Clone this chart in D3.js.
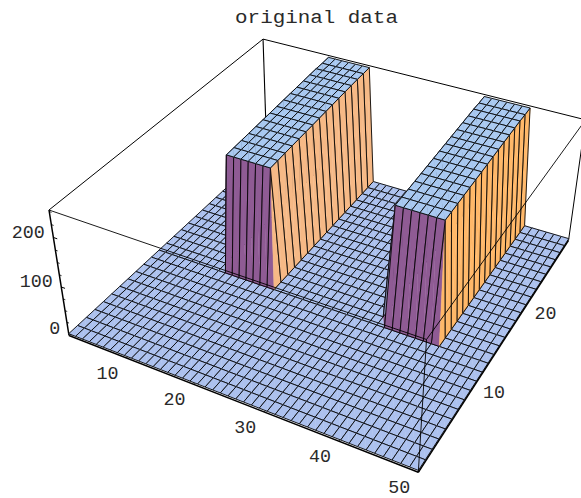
<!DOCTYPE html>
<html><head><meta charset="utf-8">
<script src="https://cdn.jsdelivr.net/npm/d3@7"></script>
<style>html,body{margin:0;padding:0;background:#fff;overflow:hidden}svg{display:block}text{font-family:"Liberation Mono",monospace;fill:#2a2a2a}</style>
</head><body>
<script>
// ---- data ----
const title = "original data";
const xTicks = [10,20,30,40,50];
const yTicks = [10,20];
const zTicks = [0,100,200];
const zMinorTicks = [25,50,75,125,150,175,225,250];
// which of the 46 mesh columns carry a wall, and the height of each of the 28 mesh rows there
const columnMask = [0,0,0,0,0,0,0,0,0,0,1,1,1,1,1,1,1,0,0,0,0,0,0,0,0,0,0,0,0,0,0,0,1,1,1,1,1,1,1,0,0,0,0,0,0,0];
const rowHeight = [0,0,0,0,0,0,0,0,0,0,0,0,235,236,237,238,239,240,241,242,243,244,245,246,247,248,248,249];
const xDomain = [1,50], yDomain = [1,30], zDomain = [-4,253];
// ---- drawing ----
const W=581,H=498;
const svg=d3.select("body").append("svg").attr("width",W).attr("height",H);
const uS=d3.scaleLinear().domain(xDomain).range([0,1]);
const vS=d3.scaleLinear().domain(yDomain).range([0,1]);
const wS=d3.scaleLinear().domain(zDomain).range([0,1]);
const iS=d3.scaleLinear().domain([0,columnMask.length-1]).range([0,1]);
const jS=d3.scaleLinear().domain([0,rowHeight.length-1]).range([0,1]);
// camera: homogeneous projection of the unit box
const CAM=[[296.93,256.5,-23.53,69],[77.67,-150,-140.62,335.5],[-.1252,.22,-.072,1]];
function project(u,v,w){const p=CAM.map(r=>r[0]*u+r[1]*v+r[2]*w+r[3]);return [p[0]/p[2],p[1]/p[2],p[2]];}
const nx=columnMask.length,ny=rowHeight.length;
const zAt=(i,j)=>columnMask[i]*rowHeight[j];
const vert=(i,j)=>({i,j,z:zAt(i,j),uvw:[iS(i),jS(j),wS(zAt(i,j))]});
const colors={floor:"#acc1ee",top:"#a9c9f1",front:"#8f5b94",side1:"#f6b986",side2:"#ffb869",back:"#8a8fb5"};
function faceColor(vs){
  const hs=vs.filter(p=>p.z>0), ls=vs.filter(p=>!p.z);
  if(hs.length===vs.length)return colors.top;
  if(!hs.length)return colors.floor;
  const dx=d3.mean(hs,p=>p.i)-d3.mean(ls,p=>p.i);
  const dy=d3.mean(hs,p=>p.j)-d3.mean(ls,p=>p.j);
  if(dy>0&&Math.abs(dy)>=Math.abs(dx))return colors.front;
  if(dx<0)return d3.mean(vs,p=>p.i)<nx/2?colors.side1:colors.side2;
  return colors.back;
}
const cells=[];
for(let i=0;i<nx-1;i++)for(let j=0;j<ny-1;j++){
  const a=vert(i,j),b=vert(i+1,j),c=vert(i+1,j+1),d=vert(i,j+1);
  const q=[a,b,c,d];
  const depth=d3.mean(q,p=>project(...p.uvw)[2]);
  cells.push({q,faces:[[a,b,d],[b,c,d]],depth});
}
cells.sort((a,b)=>b.depth-a.depth);
const line=d3.line();
const P=p=>project(...p.uvw).slice(0,2);
const edge=(a,b,sw)=>svg.append("line").attr("x1",a[0]).attr("y1",a[1]).attr("x2",b[0]).attr("y2",b[1]).attr("stroke","#000").attr("stroke-width",sw);
const C=(u,v,w)=>project(u,v,w).slice(0,2);
// hidden back box edges
edge(C(0,1,0),C(0,1,1),1.1);
edge(C(0,0,1),C(0,1,1),1);
edge(C(0,1,1),C(1,1,1),1);
edge(C(1,1,0),C(1,1,1),1);
edge(C(0,0,0),C(0,0,1),1.5);
// ticks
xTicks.forEach(t=>{const u=uS(t);edge(C(u,0,0),C(u,.012,0),.8);});
yTicks.forEach(t=>{const v=vS(t);edge(C(1,v,0),C(.99,v,0),.8);});
zTicks.forEach(t=>{const w=wS(t);edge(C(0,0,w),C(.012,0,w),1);});
zMinorTicks.forEach(t=>{const w=wS(t);edge(C(0,0,w),C(.007,0,w),.8);});
const gSurf=svg.append("g");
cells.forEach(c=>{
  c.faces.forEach(f=>{const col=faceColor(f);
    gSurf.append("path").attr("d",line(f.map(P))+"Z").attr("fill",col).attr("stroke",col).attr("stroke-width",.4);});
  gSurf.append("path").attr("d",line(c.q.map(P))+"Z").attr("fill","none").attr("stroke","#000").attr("stroke-width",.88).attr("stroke-linejoin","round");
});
// front box edges, over the surface
edge(C(0,0,0),C(1,0,0),1.5);
edge(C(1,0,0),C(1,1,0),1.5);
edge(C(0,0,1),C(1,0,1),.9);
edge(C(1,0,0),C(1,0,1),.9);
edge(C(1,0,1),C(1,1,1),.9);
// labels (the reference type is slightly stretched sideways)
function label(x,y,s,anchor,size,sx){
  svg.append("text").attr("transform",`translate(${x},${y}) scale(${sx},1)`).attr("text-anchor",anchor).attr("font-size",size).text(s);
}
xTicks.forEach(t=>{const p=C(uS(t),0,0);label(p[0]-19,p[1]+21,t,"middle",18,1.02);});
yTicks.forEach(t=>{const p=C(1,vS(t),0);label(p[0]+21.5,p[1]+9.5,t,"middle",18,1.02);});
zTicks.forEach(t=>{const p=C(0,0,wS(t));label(p[0]-8.5,p[1]+.5,t,"end",18,1.02);});
label(316.5,22.7,title,"middle",18,1.16);
</script>
</body></html>
